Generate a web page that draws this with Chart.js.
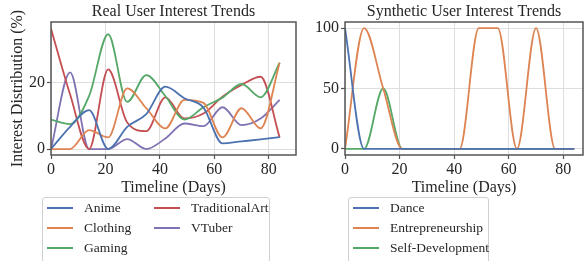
<!DOCTYPE html>
<html><head><meta charset="utf-8">
<script src="https://cdn.jsdelivr.net/npm/chart.js@4"></script>
<style>
html,body{margin:0;padding:0;background:#fff;}
body{width:584px;height:261px;position:relative;overflow:hidden;font-family:"Liberation Serif","DejaVu Serif",serif;}
#c1{position:absolute;left:0;top:0;}
#c2{position:absolute;left:300px;top:0;}
.legend{position:absolute;top:197px;height:80px;border:1px solid #d0d0d0;border-radius:3px;background:#fff;box-sizing:border-box;}
.item{position:absolute;height:20px;font-size:13.5px;color:#262626;line-height:20px;white-space:nowrap;}
.item .sw{position:absolute;left:0;top:9px;width:26px;height:2px;}
.item .tx{position:absolute;left:37px;top:0;}
</style></head>
<body>
<canvas id="c1" width="300" height="200"></canvas>
<canvas id="c2" width="284" height="200"></canvas>
<div class="legend" id="lg1" style="left:42px;width:228px;"></div>
<div class="legend" id="lg2" style="left:348px;width:141px;"></div>
<script>
const days = [0,7,14,21,28,35,42,49,56,63,70,77,84];
const realNames = ["Anime","Clothing","Gaming","TraditionalArt","VTuber"];
const anime = [0,6.7,11.7,0,6.7,10.5,18.8,15.3,12.5,1.7,2.3,2.9,3.6];
const clothing = [0,0,5.7,3.5,18.3,12.3,6.2,14.8,13.9,3.5,12.3,6.2,26];
const gaming = [8.9,7.5,16,34.6,14.2,22.3,16,8.9,12.6,15.5,19.6,15.6,26];
const traditionalArt = [36.3,16.5,0,24,8,5.4,15.6,9.2,10.7,15.8,19.3,21.8,3.5];
const vtuber = [0,23.1,0,0,3,0,3.2,7.7,6.9,12.6,7.2,9.2,14.8];
const synthNames = ["Dance","Entrepreneurship","Self-Development"];
const dance = [100,0,0,0,0,0,0,0,0,0,0,0,0];
const entrepreneurship = [0,100,50,0,0,0,0,100,100,0,100,0,0];
const selfDevelopment = [0,0,50,0,0,0,0,0,0,0,0,0,0];
const xTicks = [0,20,40,60,80];
const realYTicks = [0,20];
const synthYTicks = [0,50,100];
const colors = ["#4C72B0","#DD8452","#55A868","#C44E52","#8172B3"];

const FONT = "'Liberation Serif', 'Times New Roman', serif";
const frame = {
  id:'frame',
  afterDatasetsDraw(chart){
    const a = chart.chartArea, ctx = chart.ctx;
    ctx.save(); ctx.strokeStyle = '#555'; ctx.lineWidth = 1.5;
    ctx.strokeRect(a.left, a.top, a.right-a.left, a.bottom-a.top);
    const t = chart.options.plugins.myTitle;
    ctx.fillStyle = '#262626'; ctx.font = '16px ' + FONT;
    ctx.textAlign = 'center'; ctx.textBaseline = 'middle';
    ctx.fillText(t.text, (a.left + a.right)/2, 12);
    ctx.restore();
  }
};
function makeSets(names, arrs){
  return names.map((n,i)=>({
    label:n,
    data: days.map((d,j)=>({x:d,y:arrs[i][j]})),
    borderColor: colors[i], backgroundColor: colors[i],
    borderWidth: 1.8, pointRadius: 0, cubicInterpolationMode:'monotone', fill:false
  }));
}
function opts(title, ymin, ymax, xmax, yTicks, yW, showYTitle){
  return {
    responsive:false, animation:false,
    layout:{padding:{top:22,right:4,bottom:0,left:0}},
    plugins:{
      legend:{display:false}, tooltip:{enabled:false},
      title:{display:false},
      myTitle:{text:title}
    },
    scales:{
      x:{type:'linear',min:0,max:xmax,
        afterBuildTicks(s){ s.ticks = xTicks.map(v=>({value:v})); },
        afterFit(s){ s.height = 45; },
        grid:{color:'#dedede',borderDash:[3,3],drawTicks:true,tickLength:4,tickColor:'#555',tickBorderDash:[],tickWidth:1.2},
        border:{display:false},
        ticks:{color:'#262626',font:{family:FONT,size:16},padding:1,maxRotation:0,autoSkip:false},
        title:{display:true,text:'Timeline (Days)',color:'#262626',font:{family:FONT,size:16},padding:{top:0,bottom:3}}
      },
      y:{min:ymin,max:ymax,
        afterBuildTicks(s){ s.ticks = yTicks.map(v=>({value:v})); },
        afterFit(s){ s.width = yW; },
        grid:{color:'#dedede',borderDash:[3,3],drawTicks:true,tickLength:4,tickColor:'#555',tickBorderDash:[],tickWidth:1.2},
        border:{display:false},
        ticks:{color:'#262626',font:{family:FONT,size:16},padding:2,autoSkip:false},
        title:{display:showYTitle,text:'Interest Distribution (%)',color:'#262626',font:{family:FONT,size:16},padding:{top:8,bottom:0}}
      }
    }
  };
}
new Chart(document.getElementById('c1'),{type:'line',
  data:{datasets:makeSets(realNames,[anime,clothing,gaming,traditionalArt,vtuber])},
  options:opts('Real User Interest Trends',-1.8,38.3,90,realYTicks,51,true),plugins:[frame]});
const o2 = opts('Synthetic User Interest Trends',-5,105,87.2,synthYTicks,45,false);
o2.layout.padding.right = 1;
new Chart(document.getElementById('c2'),{type:'line',
  data:{datasets:makeSets(synthNames,[dance,entrepreneurship,selfDevelopment])},
  options:o2,plugins:[frame]});

function legend(el, names, cols){
  names.forEach((n,i)=>{
    const col = Math.floor(i/3), row = i%3;
    const d = document.createElement('div'); d.className='item';
    d.style.left = (4 + col*cols) + 'px'; d.style.top = (0 + row*20) + 'px';
    d.innerHTML = '<div class="sw" style="background:'+colors[i]+'"></div><div class="tx">'+n+'</div>';
    el.appendChild(d);
  });
}
legend(document.getElementById('lg1'), realNames, 107);
legend(document.getElementById('lg2'), synthNames, 0);
</script>
</body></html>
